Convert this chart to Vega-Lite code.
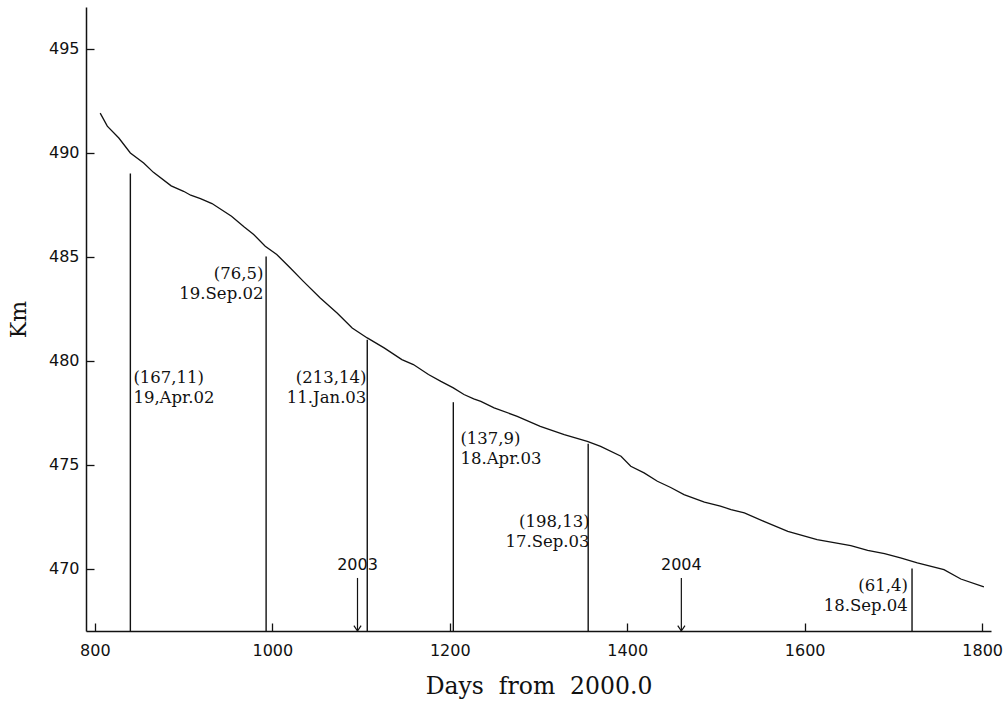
{
  "$schema": "https://vega.github.io/schema/vega-lite/v6.json",
  "width": 905,
  "height": 624,
  "autosize": "none",
  "padding": {"left": 86, "top": 7, "right": 16, "bottom": 74},
  "background": "white",
  "config": {
    "view": {"stroke": null},
    "axis": {
      "grid": false,
      "domainColor": "#111",
      "domainWidth": 1.5,
      "tickColor": "#111",
      "tickWidth": 1.3,
      "tickSize": -8,
      "labelColor": "#111",
      "labelFont": "DejaVu Sans",
      "labelFontSize": 16,
      "labelFlush": false,
      "titleColor": "#111",
      "titleFontWeight": "normal"
    }
  },
  "datasets": {
    "curve": [
      {"day": 806, "km": 491.9}, {"day": 814, "km": 491.27}, {"day": 827, "km": 490.7},
      {"day": 840, "km": 489.98}, {"day": 855, "km": 489.5}, {"day": 866, "km": 489.05},
      {"day": 886, "km": 488.4}, {"day": 900, "km": 488.14}, {"day": 908, "km": 487.95},
      {"day": 919, "km": 487.79}, {"day": 932, "km": 487.55}, {"day": 954, "km": 486.94},
      {"day": 968, "km": 486.43}, {"day": 979, "km": 486.06}, {"day": 992, "km": 485.5},
      {"day": 1005, "km": 485.1}, {"day": 1020, "km": 484.46}, {"day": 1035, "km": 483.81},
      {"day": 1054, "km": 483.01}, {"day": 1073, "km": 482.29}, {"day": 1090, "km": 481.57},
      {"day": 1107, "km": 481.09}, {"day": 1126, "km": 480.61}, {"day": 1146, "km": 480.05},
      {"day": 1159, "km": 479.81}, {"day": 1176, "km": 479.33}, {"day": 1190, "km": 479.0},
      {"day": 1204, "km": 478.69}, {"day": 1216, "km": 478.37}, {"day": 1227, "km": 478.16},
      {"day": 1235, "km": 478.04}, {"day": 1250, "km": 477.73}, {"day": 1276, "km": 477.32},
      {"day": 1302, "km": 476.84}, {"day": 1329, "km": 476.44}, {"day": 1355, "km": 476.12},
      {"day": 1370, "km": 475.88}, {"day": 1393, "km": 475.4}, {"day": 1404, "km": 474.92},
      {"day": 1419, "km": 474.6}, {"day": 1434, "km": 474.2}, {"day": 1449, "km": 473.9},
      {"day": 1464, "km": 473.56}, {"day": 1487, "km": 473.2}, {"day": 1505, "km": 473.0},
      {"day": 1517, "km": 472.84}, {"day": 1532, "km": 472.68}, {"day": 1554, "km": 472.27},
      {"day": 1581, "km": 471.79}, {"day": 1614, "km": 471.39}, {"day": 1652, "km": 471.1},
      {"day": 1671, "km": 470.88}, {"day": 1690, "km": 470.72}, {"day": 1708, "km": 470.51},
      {"day": 1727, "km": 470.27}, {"day": 1757, "km": 469.95}, {"day": 1776, "km": 469.5},
      {"day": 1802, "km": 469.12}
    ],
    "events": [
      {"day": 840, "top": 489, "base": 467},
      {"day": 993, "top": 485, "base": 467},
      {"day": 1107, "top": 481, "base": 467},
      {"day": 1204, "top": 478, "base": 467},
      {"day": 1356, "top": 476, "base": 467},
      {"day": 1721, "top": 470, "base": 467}
    ],
    "notes": [
      {"day": 843.4, "km": 478.94, "label": "(167,11)\n19,Apr.02", "side": "left"},
      {"day": 990, "km": 483.94, "label": "(76,5)\n19.Sep.02", "side": "right"},
      {"day": 1106, "km": 478.94, "label": "(213,14)\n11.Jan.03", "side": "right"},
      {"day": 1212, "km": 476.01, "label": "(137,9)\n18.Apr.03", "side": "left"},
      {"day": 1357.6, "km": 472.02, "label": "(198,13)\n17.Sep.03", "side": "right"},
      {"day": 1716.3, "km": 468.94, "label": "(61,4)\n18.Sep.04", "side": "right"}
    ],
    "years": [
      {"day": 1096, "top": 469.55, "base": 467, "labelKm": 469.95, "label": "2003"},
      {"day": 1461, "top": 469.55, "base": 467, "labelKm": 469.95, "label": "2004"}
    ]
  },
  "layer": [
    {
      "data": {"name": "curve"},
      "mark": {"type": "line", "color": "#111", "strokeWidth": 1.3, "clip": true},
      "encoding": {
        "x": {
          "field": "day", "type": "quantitative",
          "scale": {"domain": [790, 1810], "nice": false, "zero": false},
          "axis": {
            "values": [800, 1000, 1200, 1400, 1600, 1800],
            "format": "d",
            "title": "Days\u00a0\u00a0from\u00a0\u00a02000.0",
            "titleFont": "DejaVu Serif",
            "titleFontSize": 23.5,
            "titlePadding": 16,
            "labelPadding": 19
          }
        },
        "y": {
          "field": "km", "type": "quantitative",
          "scale": {"domain": [467, 497], "nice": false, "zero": false},
          "axis": {
            "values": [470, 475, 480, 485, 490, 495],
            "format": "d",
            "title": "Km",
            "titleFont": "DejaVu Serif",
            "titleFontSize": 22,
            "titlePadding": 18,
            "labelPadding": 15
          }
        }
      }
    },
    {
      "data": {"name": "events"},
      "mark": {"type": "rule", "color": "#111", "strokeWidth": 1.4},
      "encoding": {
        "x": {"field": "day", "type": "quantitative"},
        "y": {"field": "top", "type": "quantitative"},
        "y2": {"field": "base"}
      }
    },
    {
      "data": {"name": "years"},
      "mark": {"type": "rule", "color": "#111", "strokeWidth": 1.2},
      "encoding": {
        "x": {"field": "day", "type": "quantitative"},
        "y": {"field": "top", "type": "quantitative"},
        "y2": {"field": "base"}
      }
    },
    {
      "data": {"name": "years"},
      "mark": {"type": "point", "shape": "M-1.2,-1.8L0,0L1.2,-1.8", "size": 36, "filled": false, "color": "#111", "strokeWidth": 1.2, "opacity": 1},
      "encoding": {
        "x": {"field": "day", "type": "quantitative"},
        "y": {"field": "base", "type": "quantitative"}
      }
    },
    {
      "data": {"name": "years"},
      "mark": {"type": "text", "font": "DejaVu Sans", "fontSize": 16, "color": "#111", "align": "center", "baseline": "alphabetic"},
      "encoding": {
        "x": {"field": "day", "type": "quantitative"},
        "y": {"field": "labelKm", "type": "quantitative"},
        "text": {"field": "label"}
      }
    },
    {
      "data": {"name": "notes"},
      "transform": [{"filter": "datum.side == 'left'"}],
      "mark": {"type": "text", "font": "DejaVu Serif", "fontSize": 16.5, "color": "#111", "align": "left", "baseline": "alphabetic", "lineBreak": "\n", "lineHeight": 20},
      "encoding": {
        "x": {"field": "day", "type": "quantitative"},
        "y": {"field": "km", "type": "quantitative"},
        "text": {"field": "label"}
      }
    },
    {
      "data": {"name": "notes"},
      "transform": [{"filter": "datum.side == 'right'"}],
      "mark": {"type": "text", "font": "DejaVu Serif", "fontSize": 16.5, "color": "#111", "align": "right", "baseline": "alphabetic", "lineBreak": "\n", "lineHeight": 20},
      "encoding": {
        "x": {"field": "day", "type": "quantitative"},
        "y": {"field": "km", "type": "quantitative"},
        "text": {"field": "label"}
      }
    }
  ]
}
